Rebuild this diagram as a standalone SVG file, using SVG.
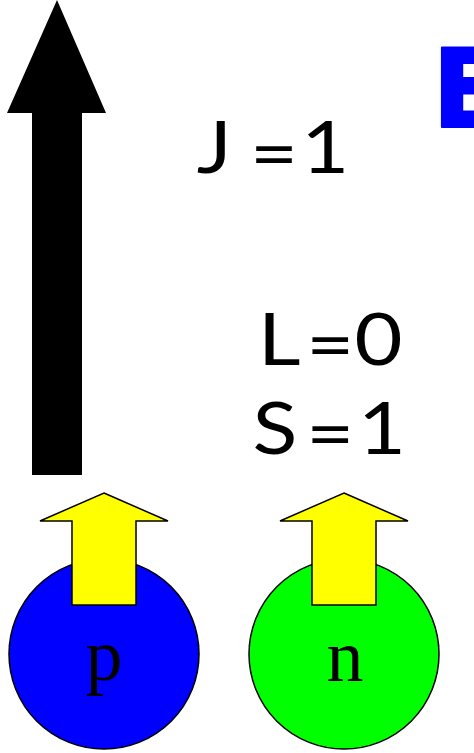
<svg xmlns="http://www.w3.org/2000/svg" width="474" height="753" viewBox="0 0 474 753">
<style>
.lbl{font-family:"Lato","Noto Sans","DejaVu Sans",sans-serif;font-size:72px;fill:#000}
.nuc{stroke:#000;stroke-width:1.5}
.spin{fill:#ffff00;stroke:#000;stroke-width:1.5;stroke-linejoin:miter}
.pn{font-family:"Liberation Serif","Times New Roman",serif;font-size:74px;fill:#000;text-anchor:middle}
</style>
<rect width="474" height="753" fill="#fff"/>
<g id="total-spin">
<polygon points="57,0 106,113 82,113 82,475 32,475 32,113 7,113" fill="#000"/>
</g>
<g id="title">
<text x="432" y="127" font-family="DejaVu Sans, sans-serif" font-weight="bold" font-size="108" fill="#0000ff" stroke="#0000ff" stroke-width="2" stroke-linejoin="round">E</text>
</g>
<g id="label-J">
<text class="lbl" y="173" transform="scale(1.15 1)"><tspan x="171">J</tspan><tspan x="217.5" dy="6">=</tspan><tspan x="262" dy="-6">1</tspan></text>
</g>
<g id="label-L">
<text class="lbl" y="365" transform="scale(1.15 1)"><tspan x="224.4">L</tspan><tspan x="266.2" dy="5">=</tspan><tspan x="308.3" dy="-5">0</tspan></text>
</g>
<g id="label-S">
<text class="lbl" y="454" transform="scale(1.15 1)"><tspan x="219.6">S</tspan><tspan x="266.2" dy="5">=</tspan><tspan x="311.4" dy="-5">1</tspan></text>
</g>
<g id="proton">
<circle class="nuc" cx="104" cy="654" r="95" fill="#0000ff"/>
<polygon class="spin" points="104,493 168,521 136,521 136,605 72,605 72,521 40,521"/>
<text class="pn" x="104" y="680">p</text>
</g>
<g id="neutron">
<circle class="nuc" cx="344" cy="654" r="95" fill="#00ff00"/>
<polygon class="spin" points="344,493 408,521 376,521 376,605 312,605 312,521 280,521"/>
<text class="pn" x="345" y="681">n</text>
</g>
</svg>
